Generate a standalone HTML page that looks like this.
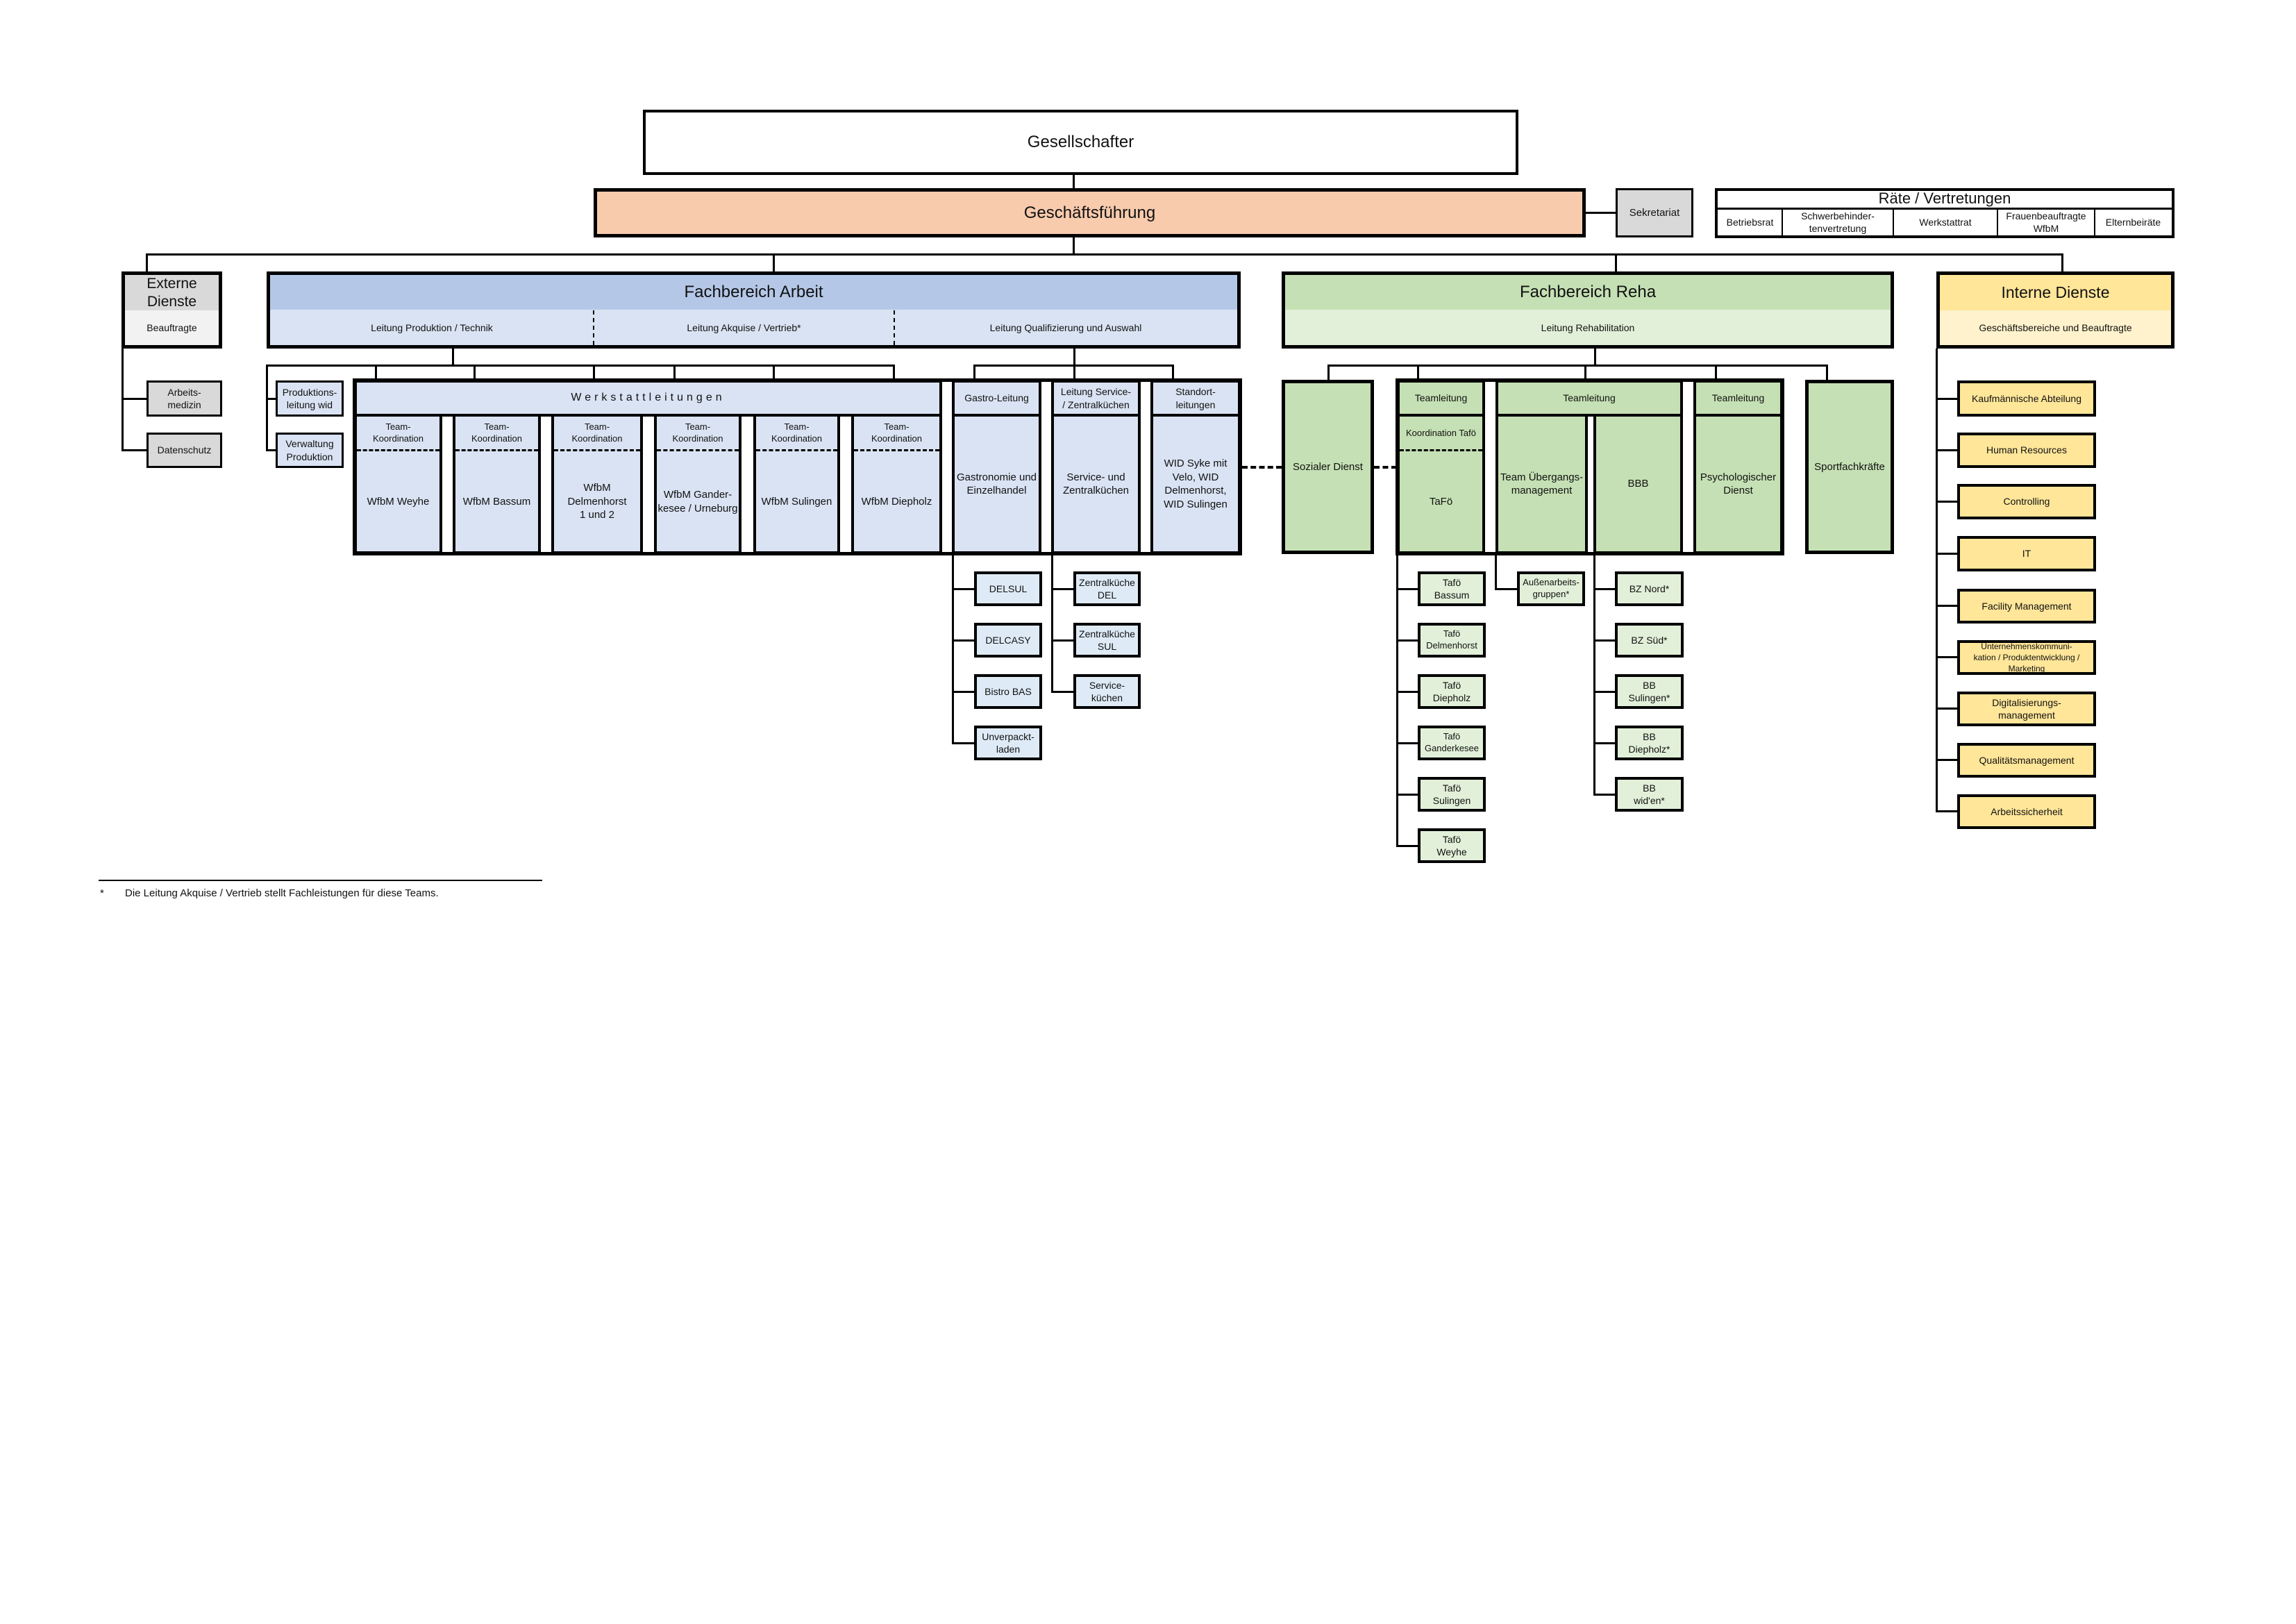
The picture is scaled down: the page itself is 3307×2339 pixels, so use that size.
<!DOCTYPE html>
<html><head><meta charset="utf-8"><style>
body{margin:0;background:#fff;}
#c{position:relative;width:3307px;height:2339px;overflow:hidden;font-family:"Liberation Sans",Arial,sans-serif;color:#111;}
.b{position:absolute;box-sizing:border-box;border:4px solid #000;display:flex;align-items:center;justify-content:center;text-align:center;font-size:15px;line-height:1.3;}
.n{position:absolute;box-sizing:border-box;display:flex;align-items:center;justify-content:center;text-align:center;font-size:15px;line-height:1.3;}
.l{position:absolute;background:#000;}
.bl{background:#dae3f3}.sb{background:#deebf7}
.gr{background:#c5e0b4}.lg{background:#e2f0d9}
.ye{background:#ffe699}
.dash{position:absolute;border-top:3px dashed #000;height:0}
</style></head><body><div id="c">

<!-- top -->
<div class="b" style="left:926px;top:158px;width:1261px;height:94px;font-size:24px;background:#fff">Gesellschafter</div>
<div class="l" style="left:1545px;top:252px;width:3px;height:19px"></div>
<div class="b" style="left:855px;top:271px;width:1429px;height:71px;font-size:24px;background:#f8cbad;border-width:5px">Geschäftsführung</div>
<div class="l" style="left:2284px;top:305px;width:43px;height:3px"></div>
<div class="b" style="left:2327px;top:271px;width:112px;height:71px;background:#d9d9d9;border-width:3px">Sekretariat</div>

<div class="b" style="left:2470px;top:271px;width:662px;height:72px;background:#fff"></div>
<div class="n" style="left:2470px;top:271px;width:662px;height:30px;font-size:22px">Räte / Vertretungen</div>
<div class="l" style="left:2472px;top:299px;width:658px;height:3px"></div>
<div class="n" style="left:2474px;top:301px;width:93px;height:38px;font-size:14px">Betriebsrat</div>
<div class="l" style="left:2566px;top:300px;width:2px;height:40px"></div>
<div class="n" style="left:2567px;top:301px;width:160px;height:38px;font-size:14px">Schwerbehinder-<br>tenvertretung</div>
<div class="l" style="left:2726px;top:300px;width:2px;height:40px"></div>
<div class="n" style="left:2727px;top:301px;width:150px;height:38px;font-size:14px">Werkstattrat</div>
<div class="l" style="left:2876px;top:300px;width:2px;height:40px"></div>
<div class="n" style="left:2877px;top:301px;width:140px;height:38px;font-size:14px">Frauenbeauftragte<br>WfbM</div>
<div class="l" style="left:3016px;top:300px;width:2px;height:40px"></div>
<div class="n" style="left:3017px;top:301px;width:111px;height:38px;font-size:14px">Elternbeiräte</div>

<!-- main bus -->
<div class="l" style="left:1545px;top:342px;width:3px;height:25px"></div>
<div class="l" style="left:210px;top:365px;width:2762px;height:3px"></div>
<div class="l" style="left:210px;top:365px;width:3px;height:27px"></div>
<div class="l" style="left:1113px;top:365px;width:3px;height:27px"></div>
<div class="l" style="left:2326px;top:365px;width:3px;height:27px"></div>
<div class="l" style="left:2969px;top:365px;width:3px;height:27px"></div>

<!-- Externe -->
<div class="b" style="left:175px;top:391px;width:145px;height:111px;background:#f2f2f2;border-width:5px"></div>
<div class="n" style="left:180px;top:396px;width:135px;height:51px;background:#d9d9d9;font-size:21px;line-height:1.2">Externe<br>Dienste</div>
<div class="n" style="left:180px;top:447px;width:135px;height:50px;font-size:14px">Beauftragte</div>
<div class="l" style="left:175px;top:502px;width:3px;height:148px"></div>
<div class="l" style="left:175px;top:573px;width:36px;height:3px"></div>
<div class="l" style="left:175px;top:647px;width:36px;height:3px"></div>
<div class="b" style="left:211px;top:548px;width:109px;height:52px;background:#d9d9d9;border-width:3px;font-size:14px">Arbeits-<br>medizin</div>
<div class="b" style="left:211px;top:623px;width:109px;height:51px;background:#d9d9d9;border-width:3px;font-size:14px">Datenschutz</div>

<!-- Fachbereich Arbeit -->
<div class="b" style="left:384px;top:391px;width:1403px;height:111px;background:#dae3f3;border-width:5px"></div>
<div class="n" style="left:389px;top:396px;width:1393px;height:50px;background:#b4c7e7;font-size:24px">Fachbereich Arbeit</div>
<div class="n" style="left:389px;top:447px;width:466px;height:50px;font-size:14px">Leitung Produktion / Technik</div>
<div class="n" style="left:855px;top:447px;width:433px;height:50px;font-size:14px">Leitung Akquise / Vertrieb*</div>
<div class="n" style="left:1288px;top:447px;width:494px;height:50px;font-size:14px">Leitung Qualifizierung und Auswahl</div>
<div style="position:absolute;left:854px;top:447px;height:50px;border-left:2px dashed #000"></div>
<div style="position:absolute;left:1287px;top:447px;height:50px;border-left:2px dashed #000"></div>

<div class="l" style="left:651px;top:502px;width:3px;height:25px"></div>
<div class="l" style="left:383px;top:525px;width:906px;height:3px"></div>
<div class="l" style="left:540px;top:525px;width:3px;height:23px"></div>
<div class="l" style="left:682px;top:525px;width:3px;height:23px"></div>
<div class="l" style="left:854px;top:525px;width:3px;height:23px"></div>
<div class="l" style="left:970px;top:525px;width:3px;height:23px"></div>
<div class="l" style="left:1113px;top:525px;width:3px;height:23px"></div>
<div class="l" style="left:1286px;top:525px;width:3px;height:23px"></div>
<div class="l" style="left:383px;top:525px;width:3px;height:125px"></div>
<div class="l" style="left:383px;top:573px;width:14px;height:3px"></div>
<div class="l" style="left:383px;top:647px;width:14px;height:3px"></div>
<div class="b" style="left:397px;top:548px;width:98px;height:52px;class:bl;background:#dae3f3;border-width:3px;font-size:14px">Produktions-<br>leitung wid</div>
<div class="b" style="left:397px;top:623px;width:98px;height:51px;background:#dae3f3;border-width:3px;font-size:14px">Verwaltung<br>Produktion</div>

<div class="l" style="left:1546px;top:502px;width:3px;height:46px"></div>
<div class="l" style="left:1402px;top:525px;width:289px;height:3px"></div>
<div class="l" style="left:1402px;top:525px;width:3px;height:23px"></div>
<div class="l" style="left:1688px;top:525px;width:3px;height:23px"></div>

<!-- Werkstatt block -->
<div class="b" style="left:510px;top:547px;width:847px;height:53px;background:#dae3f3;border-width:4px;font-size:16px;letter-spacing:5px">Werkstattleitungen</div>
<div class="b" style="left:510px;top:596px;width:127px;height:202px;background:#dae3f3;border-width:4px"></div>
<div class="b" style="left:652px;top:596px;width:127px;height:202px;background:#dae3f3;border-width:4px"></div>
<div class="b" style="left:794px;top:596px;width:132px;height:202px;background:#dae3f3;border-width:4px"></div>
<div class="b" style="left:942px;top:596px;width:126px;height:202px;background:#dae3f3;border-width:4px"></div>
<div class="b" style="left:1085px;top:596px;width:125px;height:202px;background:#dae3f3;border-width:4px"></div>
<div class="b" style="left:1226px;top:596px;width:131px;height:202px;background:#dae3f3;border-width:4px"></div>
<div class="n" style="left:514px;top:600px;width:119px;height:48px;font-size:13px">Team-<br>Koordination</div>
<div class="n" style="left:656px;top:600px;width:119px;height:48px;font-size:13px">Team-<br>Koordination</div>
<div class="n" style="left:798px;top:600px;width:124px;height:48px;font-size:13px">Team-<br>Koordination</div>
<div class="n" style="left:946px;top:600px;width:118px;height:48px;font-size:13px">Team-<br>Koordination</div>
<div class="n" style="left:1089px;top:600px;width:117px;height:48px;font-size:13px">Team-<br>Koordination</div>
<div class="n" style="left:1230px;top:600px;width:123px;height:48px;font-size:13px">Team-<br>Koordination</div>
<div class="dash" style="left:514px;top:647px;width:119px"></div>
<div class="dash" style="left:656px;top:647px;width:119px"></div>
<div class="dash" style="left:798px;top:647px;width:124px"></div>
<div class="dash" style="left:946px;top:647px;width:118px"></div>
<div class="dash" style="left:1089px;top:647px;width:117px"></div>
<div class="dash" style="left:1230px;top:647px;width:123px"></div>
<div class="n" style="left:514px;top:650px;width:119px;height:145px">WfbM Weyhe</div>
<div class="n" style="left:656px;top:650px;width:119px;height:145px">WfbM Bassum</div>
<div class="n" style="left:798px;top:650px;width:124px;height:145px">WfbM<br>Delmenhorst<br>1 und 2</div>
<div class="n" style="left:946px;top:650px;width:118px;height:145px">WfbM Gander-<br>kesee / Urneburg</div>
<div class="n" style="left:1089px;top:650px;width:117px;height:145px">WfbM Sulingen</div>
<div class="n" style="left:1230px;top:650px;width:123px;height:145px">WfbM Diepholz</div>

<div class="b" style="left:1371px;top:547px;width:129px;height:53px;background:#dae3f3;font-size:14px">Gastro-Leitung</div>
<div class="b" style="left:1514px;top:547px;width:129px;height:53px;background:#dae3f3;font-size:14px">Leitung Service-<br>/ Zentralküchen</div>
<div class="b" style="left:1657px;top:547px;width:130px;height:53px;background:#dae3f3;font-size:14px">Standort-<br>leitungen</div>
<div class="b" style="left:1371px;top:596px;width:129px;height:202px;background:#dae3f3">Gastronomie und<br>Einzelhandel</div>
<div class="b" style="left:1514px;top:596px;width:129px;height:202px;background:#dae3f3">Service- und<br>Zentralküchen</div>
<div class="b" style="left:1657px;top:596px;width:130px;height:202px;background:#dae3f3">WID Syke mit<br>Velo, WID<br>Delmenhorst,<br>WID Sulingen</div>
<div style="position:absolute;left:508px;top:545px;width:1281px;height:255px;box-sizing:border-box;border:5px solid #000"></div>

<!-- gastro sublists -->
<div class="l" style="left:1371px;top:798px;width:3px;height:274px"></div>
<div class="l" style="left:1371px;top:847px;width:32px;height:3px"></div>
<div class="l" style="left:1371px;top:921px;width:32px;height:3px"></div>
<div class="l" style="left:1371px;top:995px;width:32px;height:3px"></div>
<div class="l" style="left:1371px;top:1069px;width:32px;height:3px"></div>
<div class="b sb" style="left:1403px;top:823px;width:98px;height:50px;font-size:14px">DELSUL</div>
<div class="b sb" style="left:1403px;top:897px;width:98px;height:50px;font-size:14px">DELCASY</div>
<div class="b sb" style="left:1403px;top:971px;width:98px;height:50px;font-size:14px">Bistro BAS</div>
<div class="b sb" style="left:1403px;top:1045px;width:98px;height:50px;font-size:14px">Unverpackt-<br>laden</div>
<div class="l" style="left:1514px;top:798px;width:3px;height:200px"></div>
<div class="l" style="left:1514px;top:847px;width:32px;height:3px"></div>
<div class="l" style="left:1514px;top:921px;width:32px;height:3px"></div>
<div class="l" style="left:1514px;top:995px;width:32px;height:3px"></div>
<div class="b sb" style="left:1546px;top:823px;width:97px;height:50px;font-size:14px">Zentralküche<br>DEL</div>
<div class="b sb" style="left:1546px;top:897px;width:97px;height:50px;font-size:14px">Zentralküche<br>SUL</div>
<div class="b sb" style="left:1546px;top:971px;width:97px;height:50px;font-size:14px">Service-<br>küchen</div>

<!-- dash-dot connectors -->
<div style="position:absolute;left:1789px;top:671px;width:57px;border-top:4px dashed #000"></div>
<div style="position:absolute;left:1979px;top:671px;width:33px;border-top:4px dashed #000"></div>

<!-- Fachbereich Reha -->
<div class="b" style="left:1846px;top:391px;width:882px;height:111px;background:#e2f0d9;border-width:5px"></div>
<div class="n" style="left:1851px;top:396px;width:872px;height:50px;background:#c5e0b4;font-size:24px">Fachbereich Reha</div>
<div class="n" style="left:1851px;top:447px;width:872px;height:50px;font-size:14px">Leitung Rehabilitation</div>
<div class="l" style="left:2296px;top:502px;width:3px;height:25px"></div>
<div class="l" style="left:1912px;top:525px;width:721px;height:3px"></div>
<div class="l" style="left:1912px;top:525px;width:3px;height:23px"></div>
<div class="l" style="left:2041px;top:525px;width:3px;height:23px"></div>
<div class="l" style="left:2282px;top:525px;width:3px;height:23px"></div>
<div class="l" style="left:2470px;top:525px;width:3px;height:23px"></div>
<div class="l" style="left:2630px;top:525px;width:3px;height:23px"></div>

<div class="b gr" style="left:1846px;top:547px;width:133px;height:251px;border-width:5px">Sozialer Dienst</div>
<div class="b gr" style="left:2600px;top:547px;width:128px;height:251px;border-width:5px">Sportfachkräfte</div>

<div class="b gr" style="left:2012px;top:547px;width:127px;height:53px;font-size:14px">Teamleitung</div>
<div class="b gr" style="left:2154px;top:547px;width:270px;height:53px;font-size:14px">Teamleitung</div>
<div class="b gr" style="left:2439px;top:547px;width:129px;height:53px;font-size:14px">Teamleitung</div>
<div class="b gr" style="left:2012px;top:596px;width:127px;height:202px"></div>
<div class="n" style="left:2016px;top:600px;width:119px;height:48px;font-size:13px">Koordination Tafö</div>
<div class="dash" style="left:2016px;top:647px;width:119px"></div>
<div class="n" style="left:2016px;top:650px;width:119px;height:145px">TaFö</div>
<div class="b gr" style="left:2154px;top:596px;width:133px;height:202px">Team Übergangs-<br>management</div>
<div class="b gr" style="left:2295px;top:596px;width:129px;height:202px">BBB</div>
<div class="b gr" style="left:2439px;top:596px;width:129px;height:202px">Psychologischer<br>Dienst</div>
<div style="position:absolute;left:2010px;top:545px;width:560px;height:255px;box-sizing:border-box;border:5px solid #000"></div>

<!-- Reha sublists -->
<div class="l" style="left:2011px;top:798px;width:3px;height:421px"></div>
<div class="l" style="left:2011px;top:847px;width:31px;height:3px"></div>
<div class="l" style="left:2011px;top:921px;width:31px;height:3px"></div>
<div class="l" style="left:2011px;top:995px;width:31px;height:3px"></div>
<div class="l" style="left:2011px;top:1069px;width:31px;height:3px"></div>
<div class="l" style="left:2011px;top:1143px;width:31px;height:3px"></div>
<div class="l" style="left:2011px;top:1217px;width:31px;height:3px"></div>
<div class="b lg" style="left:2042px;top:823px;width:98px;height:50px;font-size:14px">Tafö<br>Bassum</div>
<div class="b lg" style="left:2042px;top:897px;width:98px;height:50px;font-size:13px">Tafö<br>Delmenhorst</div>
<div class="b lg" style="left:2042px;top:971px;width:98px;height:50px;font-size:14px">Tafö<br>Diepholz</div>
<div class="b lg" style="left:2042px;top:1045px;width:98px;height:50px;font-size:13px">Tafö<br>Ganderkesee</div>
<div class="b lg" style="left:2042px;top:1119px;width:98px;height:50px;font-size:14px">Tafö<br>Sulingen</div>
<div class="b lg" style="left:2042px;top:1193px;width:98px;height:50px;font-size:14px">Tafö<br>Weyhe</div>
<div class="l" style="left:2153px;top:798px;width:3px;height:52px"></div>
<div class="l" style="left:2153px;top:847px;width:32px;height:3px"></div>
<div class="b lg" style="left:2185px;top:823px;width:98px;height:50px;font-size:13px">Außenarbeits-<br>gruppen*</div>
<div class="l" style="left:2295px;top:798px;width:3px;height:348px"></div>
<div class="l" style="left:2295px;top:847px;width:31px;height:3px"></div>
<div class="l" style="left:2295px;top:921px;width:31px;height:3px"></div>
<div class="l" style="left:2295px;top:995px;width:31px;height:3px"></div>
<div class="l" style="left:2295px;top:1069px;width:31px;height:3px"></div>
<div class="l" style="left:2295px;top:1143px;width:31px;height:3px"></div>
<div class="b lg" style="left:2326px;top:823px;width:99px;height:50px;font-size:14px">BZ Nord*</div>
<div class="b lg" style="left:2326px;top:897px;width:99px;height:50px;font-size:14px">BZ Süd*</div>
<div class="b lg" style="left:2326px;top:971px;width:99px;height:50px;font-size:14px">BB<br>Sulingen*</div>
<div class="b lg" style="left:2326px;top:1045px;width:99px;height:50px;font-size:14px">BB<br>Diepholz*</div>
<div class="b lg" style="left:2326px;top:1119px;width:99px;height:50px;font-size:14px">BB<br>wid'en*</div>

<!-- Interne Dienste -->
<div class="b" style="left:2789px;top:391px;width:343px;height:111px;background:#fff2cc;border-width:5px"></div>
<div class="n" style="left:2794px;top:396px;width:333px;height:51px;background:#ffe699;font-size:23px">Interne Dienste</div>
<div class="n" style="left:2794px;top:447px;width:333px;height:50px;font-size:14px">Geschäftsbereiche und Beauftragte</div>
<div class="l" style="left:2788px;top:502px;width:3px;height:668px"></div>
<div class="l" style="left:2788px;top:573px;width:31px;height:3px"></div>
<div class="l" style="left:2788px;top:647px;width:31px;height:3px"></div>
<div class="l" style="left:2788px;top:721px;width:31px;height:3px"></div>
<div class="l" style="left:2788px;top:796px;width:31px;height:3px"></div>
<div class="l" style="left:2788px;top:871px;width:31px;height:3px"></div>
<div class="l" style="left:2788px;top:945px;width:31px;height:3px"></div>
<div class="l" style="left:2788px;top:1019px;width:31px;height:3px"></div>
<div class="l" style="left:2788px;top:1093px;width:31px;height:3px"></div>
<div class="l" style="left:2788px;top:1167px;width:31px;height:3px"></div>
<div class="b ye" style="left:2819px;top:548px;width:200px;height:52px;font-size:14px">Kaufmännische Abteilung</div>
<div class="b ye" style="left:2819px;top:623px;width:200px;height:51px;font-size:14px">Human Resources</div>
<div class="b ye" style="left:2819px;top:697px;width:200px;height:51px;font-size:14px">Controlling</div>
<div class="b ye" style="left:2819px;top:772px;width:200px;height:51px;font-size:14px">IT</div>
<div class="b ye" style="left:2819px;top:848px;width:200px;height:50px;font-size:14px">Facility Management</div>
<div class="b ye" style="left:2819px;top:922px;width:200px;height:50px;font-size:12px;line-height:1.35;overflow:hidden">Unternehmenskommuni-<br>kation / Produktentwicklung /<br>Marketing</div>
<div class="b ye" style="left:2819px;top:996px;width:200px;height:50px;font-size:14px">Digitalisierungs-<br>management</div>
<div class="b ye" style="left:2819px;top:1070px;width:200px;height:50px;font-size:14px">Qualitätsmanagement</div>
<div class="b ye" style="left:2819px;top:1144px;width:200px;height:50px;font-size:14px">Arbeitssicherheit</div>

<!-- footnote -->
<div class="l" style="left:142px;top:1267px;width:639px;height:2px"></div>
<div style="position:absolute;left:144px;top:1278px;font-size:15px">*</div>
<div style="position:absolute;left:180px;top:1278px;font-size:15px">Die Leitung Akquise / Vertrieb stellt Fachleistungen für diese Teams.</div>

</div></body></html>
